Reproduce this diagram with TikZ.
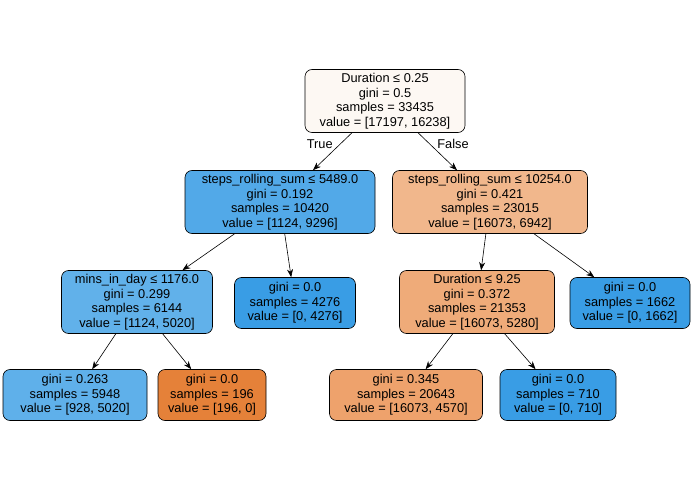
\documentclass[tikz,border=0pt]{standalone}
\usepackage{fontspec}
\setmainfont{Liberation Sans}
\usetikzlibrary{arrows.meta}
\begin{document}
\begin{tikzpicture}[x=1pt,y=-1pt,
 box/.style={draw=black,rounded corners=7pt,align=center,inner sep=3pt,font=\fontsize{12.8}{14.5}\selectfont,line width=0.6pt},
 e/.style={-{Stealth[length=8pt,width=6pt]},line width=0.6pt},
 lab/.style={font=\fontsize{12.8}{14}\selectfont}]
\useasboundingbox (0,0) rectangle (695,494);
\definecolor{c0}{HTML}{FDF8F3}\definecolor{c1}{HTML}{52A9E8}\definecolor{c2}{HTML}{F1B78C}
\definecolor{c3}{HTML}{61B1EA}\definecolor{cb}{HTML}{399DE5}\definecolor{c6}{HTML}{EFAB79}
\definecolor{c8}{HTML}{5FB0EA}\definecolor{co}{HTML}{E58139}\definecolor{c9}{HTML}{EEA26C}
\node[box,fill=c0,minimum width=160pt,minimum height=63pt] (n0) at (385,101) {Duration ≤ 0.25\\gini = 0.5\\samples = 33435\\value = [17197, 16238]};
\node[box,fill=c1,minimum width=190pt,minimum height=63pt] (n1) at (280,202) {steps\_rolling\_sum ≤ 5489.0\\gini = 0.192\\samples = 10420\\value = [1124, 9296]};
\node[box,fill=c2,minimum width=195pt,minimum height=63pt] (n2) at (490,202) {steps\_rolling\_sum ≤ 10254.0\\gini = 0.421\\samples = 23015\\value = [16073, 6942]};
\node[box,fill=c3,minimum width=151pt,minimum height=63pt] (n3) at (137,302) {mins\_in\_day ≤ 1176.0\\gini = 0.299\\samples = 6144\\value = [1124, 5020]};
\node[box,fill=cb,minimum width=121pt,minimum height=51pt] (n4) at (295,303) {gini = 0.0\\samples = 4276\\value = [0, 4276]};
\node[box,fill=c6,minimum width=155pt,minimum height=63pt] (n5) at (477,302) {Duration ≤ 9.25\\gini = 0.372\\samples = 21353\\value = [16073, 5280]};
\node[box,fill=cb,minimum width=120pt,minimum height=51pt] (n6) at (630,303) {gini = 0.0\\samples = 1662\\value = [0, 1662]};
\node[box,fill=c8,minimum width=144pt,minimum height=51pt] (n7) at (75,395) {gini = 0.263\\samples = 5948\\value = [928, 5020]};
\node[box,fill=co,minimum width=108pt,minimum height=51pt] (n8) at (212,395) {gini = 0.0\\samples = 196\\value = [196, 0]};
\node[box,fill=c9,minimum width=153pt,minimum height=51pt] (n9) at (406,395) {gini = 0.345\\samples = 20643\\value = [16073, 4570]};
\node[box,fill=cb,minimum width=116pt,minimum height=51pt] (n10) at (558,395) {gini = 0.0\\samples = 710\\value = [0, 710]};
\draw[e] (n0) -- (n1) node[lab,pos=0.3,left=4pt] {True};
\draw[e] (n0) -- (n2) node[lab,pos=0.3,right=4pt] {False};
\draw[e] (n1) -- (n3); \draw[e] (n1) -- (n4);
\draw[e] (n2) -- (n5); \draw[e] (n2) -- (n6);
\draw[e] (n3) -- (n7); \draw[e] (n3) -- (n8);
\draw[e] (n5) -- (n9); \draw[e] (n5) -- (n10);
\end{tikzpicture}
\end{document}
